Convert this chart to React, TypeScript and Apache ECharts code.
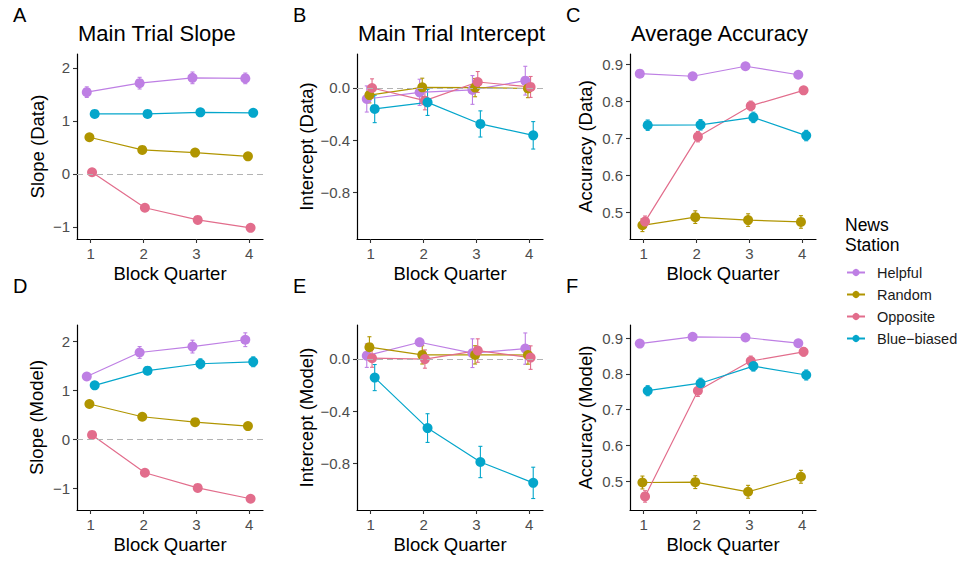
import React, { useEffect, useRef } from "react";
import * as echarts from "echarts";

// ---------- data ----------
const quarters = [1, 2, 3, 4];
const stations = ["Helpful", "Random", "Opposite", "Blue−biased"];
const stationColors = ["#BE7FE4", "#B09500", "#E26D8C", "#04A6CB"];

const slopeTicks = [-1, 0, 1, 2];
const interceptTicks = [-0.8, -0.4, 0];
const accuracyTicks = [0.5, 0.6, 0.7, 0.8, 0.9];

// rows: Helpful, Random, Opposite, Blue-biased
const slopeDataMean = [
  [1.54, 1.71, 1.81, 1.8],
  [0.69, 0.45, 0.4, 0.33],
  [0.03, -0.64, -0.87, -1.02],
  [1.13, 1.13, 1.16, 1.15],
];
const slopeDataErr = [
  [0.1, 0.11, 0.11, 0.1],
  [0.03, 0.03, 0.03, 0.03],
  [0.03, 0.03, 0.03, 0.03],
  [0.06, 0.05, 0.06, 0.06],
];
const interceptDataMean = [
  [-0.084, -0.033, -0.015, 0.056],
  [-0.054, 0.005, 0.003, -0.004],
  [0.0, -0.097, 0.046, 0.008],
  [-0.16, -0.11, -0.275, -0.362],
];
const interceptDataErr = [
  [0.1, 0.1, 0.11, 0.11],
  [0.06, 0.07, 0.07, 0.07],
  [0.07, 0.07, 0.08, 0.08],
  [0.105, 0.1, 0.1, 0.105],
];
const accuracyDataMean = [
  [0.874, 0.867, 0.894, 0.871],
  [0.465, 0.487, 0.479, 0.474],
  [0.475, 0.704, 0.787, 0.829],
  [0.735, 0.736, 0.756, 0.707],
];
const accuracyDataErr = [
  [0.008, 0.008, 0.008, 0.008],
  [0.017, 0.017, 0.017, 0.017],
  [0.015, 0.014, 0.013, 0.01],
  [0.014, 0.014, 0.014, 0.014],
];
const slopeModelMean = [
  [1.28, 1.77, 1.89, 2.03],
  [0.72, 0.46, 0.35, 0.27],
  [0.09, -0.68, -0.99, -1.21],
  [1.1, 1.4, 1.54, 1.58],
];
const slopeModelErr = [
  [0.06, 0.12, 0.13, 0.14],
  [0.04, 0.04, 0.04, 0.04],
  [0.04, 0.04, 0.04, 0.04],
  [0.07, 0.08, 0.1, 0.1],
];
const interceptModelMean = [
  [0.025, 0.128, 0.044, 0.079],
  [0.09, 0.031, 0.031, 0.03],
  [0.006, -0.001, 0.064, 0.01],
  [-0.143, -0.53, -0.79, -0.95],
];
const interceptModelErr = [
  [0.09, 0.03, 0.11, 0.12],
  [0.08, 0.07, 0.07, 0.07],
  [0.07, 0.07, 0.09, 0.09],
  [0.1, 0.11, 0.12, 0.12],
];
const accuracyModelMean = [
  [0.885, 0.904, 0.902, 0.886],
  [0.496, 0.497, 0.47, 0.512],
  [0.457, 0.753, 0.836, 0.862],
  [0.753, 0.774, 0.822, 0.797],
];
const accuracyModelErr = [
  [0.006, 0.006, 0.006, 0.006],
  [0.018, 0.018, 0.018, 0.018],
  [0.016, 0.016, 0.014, 0.012],
  [0.014, 0.014, 0.014, 0.014],
];

// ---------- layout ----------
const FONT = "Liberation Sans, Arial, Helvetica, sans-serif";
const colLeft = [77, 357, 630];
const rowTop = [54, 325];
const gridW = 186;
const gridH = 185;
const dodge = [-0.075, -0.025, 0.025, 0.075];
const xMin = 0.74;
const xMax = 4.26;

type Panel = {
  letter: string;
  title?: string;
  yName: string;
  mean: number[][];
  err: number[][];
  ticks: number[];
  yMin: number;
  yMax: number;
  decimals: number;
  zeroLine: boolean;
  col: number;
  row: number;
  yNameX: number;
};

const panels: Panel[] = [
  { letter: "A", title: "Main Trial Slope", yName: "Slope (Data)", mean: slopeDataMean, err: slopeDataErr, ticks: slopeTicks, yMin: -1.23, yMax: 2.26, decimals: 0, zeroLine: true, col: 0, row: 0, yNameX: 37 },
  { letter: "B", title: "Main Trial Intercept", yName: "Intercept (Data)", mean: interceptDataMean, err: interceptDataErr, ticks: interceptTicks, yMin: -1.155, yMax: 0.26, decimals: 1, zeroLine: true, col: 1, row: 0, yNameX: 306 },
  { letter: "C", title: "Average Accuracy", yName: "Accuracy (Data)", mean: accuracyDataMean, err: accuracyDataErr, ticks: accuracyTicks, yMin: 0.428, yMax: 0.927, decimals: 1, zeroLine: false, col: 2, row: 0, yNameX: 585.5 },
  { letter: "D", yName: "Slope (Model)", mean: slopeModelMean, err: slopeModelErr, ticks: slopeTicks, yMin: -1.44, yMax: 2.33, decimals: 0, zeroLine: true, col: 0, row: 1, yNameX: 36.5 },
  { letter: "E", yName: "Intercept (Model)", mean: interceptModelMean, err: interceptModelErr, ticks: interceptTicks, yMin: -1.158, yMax: 0.26, decimals: 1, zeroLine: true, col: 1, row: 1, yNameX: 306 },
  { letter: "F", yName: "Accuracy (Model)", mean: accuracyModelMean, err: accuracyModelErr, ticks: accuracyTicks, yMin: 0.419, yMax: 0.937, decimals: 1, zeroLine: false, col: 2, row: 1, yNameX: 585.5 },
];

function fmt(v: number, d: number) {
  return v.toFixed(d).replace("-", "−");
}

function buildOption() {
  const grid: any[] = [];
  const xAxis: any[] = [];
  const yAxis: any[] = [];
  const series: any[] = [];
  const graphic: any[] = [];

  panels.forEach((p, i) => {
    const left = colLeft[p.col];
    const top = rowTop[p.row];
    grid.push({ left, top, width: gridW, height: gridH, containLabel: false });
    xAxis.push({
      type: "value",
      gridIndex: i,
      min: xMin,
      max: xMax,
      name: "Block Quarter",
      nameLocation: "middle",
      nameGap: 25,
      nameTextStyle: { fontSize: 18.5, color: "#000", fontFamily: FONT },
      axisLine: { show: true, onZero: false, lineStyle: { color: "#000", width: 1.2 } },
      axisTick: { show: true, length: 4, customValues: quarters, lineStyle: { color: "#333", width: 1.1 } },
      axisLabel: { customValues: quarters, fontSize: 15, color: "#4D4D4D", margin: 7, fontFamily: FONT },
      splitLine: { show: false },
    });
    yAxis.push({
      type: "value",
      gridIndex: i,
      min: p.yMin,
      max: p.yMax,
      axisLine: { show: true, onZero: false, lineStyle: { color: "#000", width: 1.2 } },
      axisTick: { show: true, length: 4, customValues: p.ticks, lineStyle: { color: "#333", width: 1.1 } },
      axisLabel: {
        customValues: p.ticks,
        fontSize: 15,
        color: "#4D4D4D",
        margin: 7,
        fontFamily: FONT,
        formatter: (v: number) => fmt(v, p.decimals),
      },
      splitLine: { show: false },
    });

    if (p.zeroLine) {
      series.push({
        type: "line",
        name: "zero" + i,
        xAxisIndex: i,
        yAxisIndex: i,
        data: [],
        z: 1,
        silent: true,
        markLine: {
          silent: true,
          symbol: "none",
          label: { show: false },
          lineStyle: { type: [6, 4], color: "#B3B3B3", width: 1 },
          data: [{ yAxis: 0 }],
        },
      });
    }

    p.mean.forEach((vals, s) => {
      const color = stationColors[s];
      const errData = vals.map((v, k) => [quarters[k] + dodge[s], v - p.err[s][k], v + p.err[s][k]]);
      series.push({
        type: "custom",
        name: stations[s] + " SE " + p.letter,
        xAxisIndex: i,
        yAxisIndex: i,
        z: 2,
        silent: true,
        encode: { x: 0, y: [1, 2] },
        data: errData,
        renderItem: (_params: any, api: any) => {
          const x = api.value(0);
          const a = api.coord([x, api.value(2)]);
          const b = api.coord([x, api.value(1)]);
          const w = 2;
          const st = { stroke: color, lineWidth: 1.1 };
          return {
            type: "group",
            children: [
              { type: "line", shape: { x1: a[0], y1: a[1], x2: b[0], y2: b[1] }, style: st },
              { type: "line", shape: { x1: a[0] - w, y1: a[1], x2: a[0] + w, y2: a[1] }, style: st },
              { type: "line", shape: { x1: b[0] - w, y1: b[1], x2: b[0] + w, y2: b[1] }, style: st },
            ],
          };
        },
      });
      series.push({
        type: "line",
        name: stations[s],
        xAxisIndex: i,
        yAxisIndex: i,
        z: 3,
        data: vals.map((v, k) => [quarters[k] + dodge[s], v]),
        symbol: "circle",
        symbolSize: 10,
        showSymbol: true,
        itemStyle: { color },
        lineStyle: { color, width: 1.2 },
        emphasis: { disabled: true },
      });
    });

    // panel letter
    graphic.push({
      type: "text",
      left: undefined,
      x: left - 64,
      y: top - 39,
      style: { text: p.letter, fontSize: 20, fill: "#000", font: `20px ${FONT}`, verticalAlign: "middle", align: "left" },
    });
    if (p.title) {
      graphic.push({
        type: "text",
        x: left + 1,
        y: top - 21,
        style: { text: p.title, font: `22px ${FONT}`, fill: "#000", verticalAlign: "middle", align: "left" },
      });
    }
    graphic.push({
      type: "text",
      x: p.yNameX,
      y: top + gridH / 2,
      rotation: Math.PI / 2,
      style: { text: p.yName, font: `18.5px ${FONT}`, fill: "#000", verticalAlign: "middle", align: "center" },
    });
  });

  graphic.push({
    type: "text",
    x: 845,
    y: 235,
    style: { text: "News\nStation", font: `17.5px ${FONT}`, lineHeight: 20, fill: "#000", verticalAlign: "middle", align: "left" },
  });

  return {
    animation: false,
    backgroundColor: "#fff",
    grid,
    xAxis,
    yAxis,
    series,
    graphic,
    legend: {
      data: stations,
      orient: "vertical",
      left: 846,
      top: 265,
      padding: 0,
      itemWidth: 18,
      itemHeight: 9,
      itemGap: 7,
      selectedMode: false,
      textStyle: { fontSize: 14.5, color: "#1A1A1A", fontFamily: FONT, padding: [0, 0, 0, 7] },
    },
  };
}

export default function App() {
  const ref = useRef<HTMLDivElement>(null);
  useEffect(() => {
    if (!ref.current) return;
    const chart = echarts.init(ref.current, undefined, { renderer: "svg" });
    chart.setOption(buildOption() as any);
    return () => chart.dispose();
  }, []);
  return (
    <div
      ref={ref}
      style={{ position: "fixed", left: 0, top: 0, width: 972, height: 561, background: "#fff" }}
    />
  );
}
